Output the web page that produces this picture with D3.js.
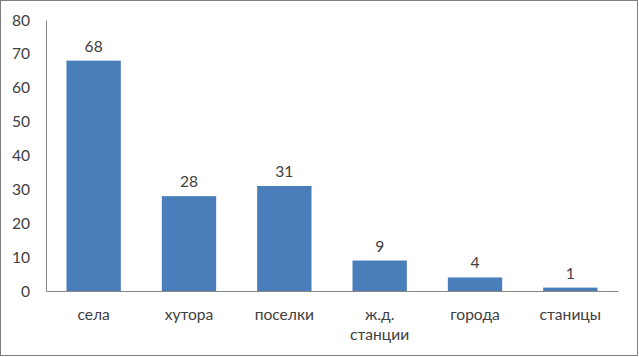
<!DOCTYPE html>
<html>
<head>
<meta charset="utf-8">
<script src="https://cdn.jsdelivr.net/npm/d3@7"></script>
<style>
  body { margin: 0; background: #fff; }
  svg { display: block; font-family: Lato, "Open Sans", sans-serif; }
</style>
</head>
<body>
<svg width="639" height="357"></svg>
<script>
// categories and values
var categories = ["села", "хутора", "поселки", "ж.д. станции", "города", "станицы"];
var values = [68, 28, 31, 9, 4, 1];
var yTicks = [0, 10, 20, 30, 40, 50, 60, 70, 80];

var svgWidth = 639, svgHeight = 357;
var margin = { top: 20, right: 21, bottom: 66, left: 46 };
var width = svgWidth - margin.left - margin.right;
var height = svgHeight - margin.top - margin.bottom;
var fontSize = 15.6;

var svg = d3.select("svg");

// outer frame
svg.append("rect")
    .attr("x", 0.5).attr("y", 0.5)
    .attr("width", svgWidth - 2).attr("height", svgHeight - 2)
    .attr("fill", "#fff")
    .attr("stroke", "#7f7f7f");

var g = svg.append("g")
    .attr("transform", "translate(" + margin.left + "," + margin.top + ")");

var x = d3.scaleBand()
    .domain(categories)
    .range([0, width])
    .paddingInner(0.43)
    .paddingOuter(0.215);

var y = d3.scaleLinear()
    .domain([0, 80])
    .range([height, 0]);

var data = categories.map(function(c, i) { return { name: c, value: values[i] }; });

// y axis
var yAxis = g.append("g")
    .call(d3.axisLeft(y).tickValues(yTicks).tickSize(0).tickPadding(16));
yAxis.select(".domain").attr("stroke", "#868686");
yAxis.selectAll("text")
    .attr("font-size", fontSize)
    .attr("fill", "#404040")
    .attr("font-family", "Lato, 'Open Sans', sans-serif");

// bars
g.selectAll(".bar")
    .data(data)
    .enter().append("rect")
    .attr("class", "bar")
    .attr("x", function(d) { return x(d.name); })
    .attr("y", function(d) { return y(d.value); })
    .attr("width", x.bandwidth())
    .attr("height", function(d) { return height - y(d.value); })
    .attr("fill", "#4a7ebb");

// x axis
var xAxis = g.append("g")
    .attr("transform", "translate(0," + height + ")")
    .call(d3.axisBottom(x).tickSize(0).tickPadding(0));
xAxis.select(".domain").attr("stroke", "#868686");
xAxis.selectAll("text").remove();

// category labels, wrapped on space for "ж.д. станции"
xAxis.selectAll(".tick").each(function(d) {
    var parts = d === "ж.д. станции" ? d.split(" ") : [d];
    var t = d3.select(this).append("text")
        .attr("fill", "#404040")
        .attr("font-size", fontSize)
        .attr("text-anchor", "middle")
        .attr("font-family", "Lato, 'Open Sans', sans-serif");
    parts.forEach(function(p, i) {
        t.append("tspan").attr("x", 0).attr("y", 29 + i * 20).text(p);
    });
});

// value labels
g.selectAll(".label")
    .data(data)
    .enter().append("text")
    .attr("class", "label")
    .attr("x", function(d) { return x(d.name) + x.bandwidth() / 2; })
    .attr("y", function(d) { return y(d.value) - 9; })
    .attr("text-anchor", "middle")
    .attr("font-size", fontSize)
    .attr("fill", "#404040")
    .text(function(d) { return d.value; });
</script>
</body>
</html>
